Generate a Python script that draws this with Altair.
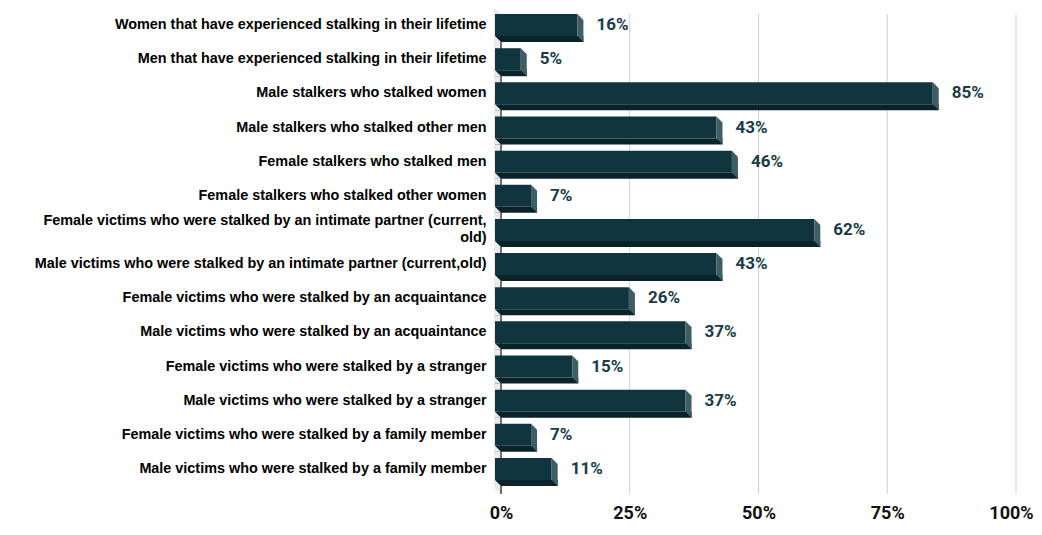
import altair as alt
import pandas as pd

CATEGORIES = [
    "Women that have experienced stalking in their lifetime",
    "Men that have experienced stalking in their lifetime",
    "Male stalkers who stalked women",
    "Male stalkers who stalked other men",
    "Female stalkers who stalked men",
    "Female stalkers who stalked other women",
    "Female victims who were stalked by an intimate partner (current, old)",
    "Male victims who were stalked by an intimate partner (current,old)",
    "Female victims who were stalked by an acquaintance",
    "Male victims who were stalked by an acquaintance",
    "Female victims who were stalked by a stranger",
    "Male victims who were stalked by a stranger",
    "Female victims who were stalked by a family member",
    "Male victims who were stalked by a family member",
]
VALUES = [16, 5, 85, 43, 46, 7, 62, 43, 26, 37, 15, 37, 7, 11]
TICKS = [0, 25, 50, 75, 100]

# colours of the 3D bar faces
FRONT = "#10353e"
BOTTOM = "#0a2329"
SIDE = "#3e5d64"
WALL = "#ebebeb"
W, H = 515, 478

df = pd.DataFrame({"label": CATEGORIES, "value": VALUES})
df["start"] = 0
df["text"] = df["value"].astype(str) + "%"
ticks = pd.DataFrame({"tick": TICKS})

xs = alt.Scale(domain=[0, 100])
ys = alt.Scale(paddingInner=0, paddingOuter=0)

# the long label is broken in two lines, like in the original
long_test = "indexof(datum.value, 'current, old') >= 0"
wrap = ("indexof(datum.label, 'current, old') >= 0 ? "
        "split(replace(datum.label, 'current, old', 'current,|old'), '|') : datum.label")

x_axis = alt.Axis(
    values=TICKS, labelExpr="datum.value + '%'", grid=False, domain=False,
    ticks=False, labelPadding=18, labelFont="Roboto", labelFontWeight="bold",
    labelFontSize=18, labelColor="#111111", labelFlush=False, title=None,
    # keep the last label inside the page
    labelOffset={"condition": {"test": "datum.value == 100", "value": -5}, "value": 0},
)
y_axis = alt.Axis(
    domain=False, ticks=False, labelPadding=15, labelLimit=0,
    labelFont="Liberation Sans", labelFontWeight="bold", labelFontSize=14.4,
    labelColor="#000000", labelExpr=wrap, labelLineHeight=17,
    labelOffset={"condition": {"test": long_test, "value": -8.5}, "value": 0},
    minExtent=493, maxExtent=493, title=None,
)


def xq(field):
    return alt.X(field, scale=xs, axis=x_axis)


y_enc = alt.Y("label:N", sort=CATEGORIES, scale=ys, axis=y_axis)

# left wall + grid + axis line
wall = alt.Chart(ticks).transform_filter("datum.tick == 0").mark_point(
    shape=f"M-7,0 L0,6 L0,{H + 8} L-7,{H + 2} Z", size=4, filled=True,
    opacity=1, color=WALL, strokeWidth=0,
).encode(x=xq("tick:Q"), y=alt.value(0))

grid = alt.Chart(ticks).transform_filter("datum.tick > 0").mark_rule(
    color="#cfcfcf", strokeWidth=1
).encode(x=xq("tick:Q"), y=alt.value(6), y2=alt.value(H + 8))

axis_line = alt.Chart(ticks).transform_filter("datum.tick == 0").mark_rule(
    color="#444444", strokeWidth=1.5
).encode(x=xq("tick:Q"), y=alt.value(6), y2=alt.value(H + 8))

base = alt.Chart(df)

bottom = base.mark_bar(color=BOTTOM, size=6, xOffset=-6, yOffset=14).encode(
    x=xq("start:Q"), x2="value:Q", y=y_enc
)

front = base.mark_bar(color=FRONT, size=22, xOffset=-6, x2Offset=-6).encode(
    x=xq("start:Q"), x2="value:Q", y=y_enc
)

side = base.mark_point(
    shape="M-6,-11 L0,-5 L0,17 L-6,11 Z", size=4, filled=True, opacity=1,
    color=SIDE, strokeWidth=0,
).encode(x=xq("value:Q"), y=y_enc)

notch = base.mark_point(
    shape="M-6,11 L-6,17 L0,17 Z", size=4, filled=True, opacity=1,
    color=WALL, strokeWidth=0,
).encode(x=xq("start:Q"), y=y_enc)

text = base.mark_text(
    align="left", baseline="middle", dx=13, font="Roboto", fontWeight="bold",
    fontSize=17, color="#183c48",
).encode(x=xq("value:Q"), y=y_enc, text="text:N")

chart = (
    alt.layer(wall, grid, axis_line, bottom, front, side, notch, text)
    .properties(width=W, height=H, padding={"left": 0, "top": 0, "right": 0, "bottom": 0})
    .configure_view(stroke=None)
)

chart.save("out.html", embed_options={"renderer": "svg", "actions": False})
